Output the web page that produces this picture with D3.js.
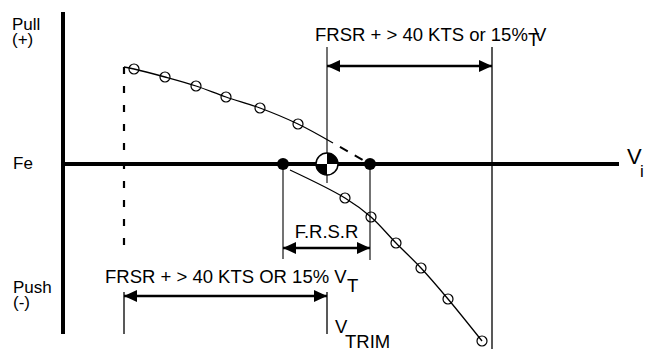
<!DOCTYPE html>
<meta charset="utf-8">
<style>
body { margin: 0; background: #fff; }
text { font-family: "Liberation Sans", Arial, sans-serif; fill: #000; }
</style>
<body>
<script src="https://d3js.org/d3.v7.min.js"></script>
<script>
// stick force (Fe) vs indicated airspeed (Vi)
var upperKts = [35.5, 51, 66.5, 81.5, 98.5, 117.5];
var upperFe  = [95, 87, 78, 67, 56, 40];
var lowerKts = [141, 154, 166.5, 179, 192.5, 209.5];
var lowerFe  = [-34, -53, -79, -104, -135, -177];

var upperStart = [30.5, 97];   // curve begins at the dashed limit line
var upperSolidEnd = [135, 21]; // then dashes down to the zero crossing
var lowerStart = [113.5, -6];

var frsrKts = [110, 153.5];    // free return speed range ends
var vTrim = 132;
var leftLimit = 30.5, rightLimit = 214.5;

var width = 645, height = 349;

var x = d3.scaleLinear().domain([0, 278]).range([63, 619]);
var y = d3.scaleLinear().domain([-170, 152]).range([334, 12]);

var svg = d3.select("body").append("svg")
    .attr("width", width)
    .attr("height", height);

// arrow heads
var defs = svg.append("defs");
["end", "start"].forEach(function(k) {
  defs.append("marker")
      .attr("id", "arr-" + k)
      .attr("viewBox", "0 -6 13 12")
      .attr("refX", 13).attr("refY", 0)
      .attr("markerUnits", "userSpaceOnUse")
      .attr("markerWidth", 13).attr("markerHeight", 12)
      .attr("orient", k == "end" ? "auto" : "auto-start-reverse")
    .append("path")
      .attr("d", "M0,-6L13,0L0,6Z")
      .attr("fill", "#000");
});

function vline(kt, fe0, fe1, col, w) {
  svg.append("line")
      .attr("x1", x(kt)).attr("x2", x(kt))
      .attr("y1", y(fe0)).attr("y2", y(fe1))
      .attr("stroke", col).attr("stroke-width", w);
}
function arrow(k0, k1, fe, w) {
  svg.append("line")
      .attr("x1", x(k0)).attr("x2", x(k1))
      .attr("y1", y(fe)).attr("y2", y(fe))
      .attr("stroke", "#000").attr("stroke-width", w)
      .attr("marker-start", "url(#arr-start)")
      .attr("marker-end", "url(#arr-end)");
}

// guide lines
vline(vTrim, 117, -19, "#444", 1.5);
vline(rightLimit, 117, -186, "#222", 1.5);
vline(frsrKts[0], 0, -95, "#444", 1.5);
vline(frsrKts[1], 0, -96, "#444", 1.5);
vline(leftLimit, -128, -170, "#222", 1.5);
vline(vTrim, -128, -170, "#222", 1.5);

// dashed limit at low speed
svg.append("line")
    .attr("x1", x(leftLimit)).attr("x2", x(leftLimit))
    .attr("y1", y(97)).attr("y2", y(-84))
    .attr("stroke", "#000").attr("stroke-width", 2.2)
    .attr("stroke-dasharray", "7,12");

arrow(vTrim, rightLimit, 98, 2.6);
arrow(frsrKts[0], frsrKts[1], -84, 2.4);
arrow(leftLimit, vTrim, -132, 2.4);

// axes
svg.append("line")
    .attr("x1", x(0)).attr("x2", x(0))
    .attr("y1", y(152)).attr("y2", y(-170))
    .attr("stroke", "#000").attr("stroke-width", 4);
svg.append("line")
    .attr("x1", x(0)).attr("x2", x(278))
    .attr("y1", y(0)).attr("y2", y(0))
    .attr("stroke", "#000").attr("stroke-width", 4);

// curves
var line = d3.line()
    .x(function(d) { return x(d[0]); })
    .y(function(d) { return y(d[1]); })
    .curve(d3.curveCatmullRom);

var upper = upperKts.map(function(k, i) { return [k, upperFe[i]]; });
var lower = lowerKts.map(function(k, i) { return [k, lowerFe[i]]; });

svg.append("path")
    .attr("d", line([upperStart].concat(upper, [upperSolidEnd])))
    .attr("fill", "none").attr("stroke", "#000").attr("stroke-width", 1.3);
svg.append("path")
    .attr("d", line([upperSolidEnd, [frsrKts[1], 0]]))
    .attr("fill", "none").attr("stroke", "#000").attr("stroke-width", 2)
    .attr("stroke-dasharray", "9,8").attr("stroke-dashoffset", -8);
svg.append("path")
    .attr("d", line([lowerStart].concat(lower)))
    .attr("fill", "none").attr("stroke", "#000").attr("stroke-width", 1.3);

svg.selectAll("circle.pt")
    .data(upper.concat(lower))
  .enter().append("circle")
    .attr("class", "pt")
    .attr("cx", function(d) { return x(d[0]); })
    .attr("cy", function(d) { return y(d[1]); })
    .attr("r", 5)
    .attr("fill", "none").attr("stroke", "#000").attr("stroke-width", 1.2);

svg.selectAll("circle.frsr")
    .data(frsrKts)
  .enter().append("circle")
    .attr("class", "frsr")
    .attr("cx", function(d) { return x(d); })
    .attr("cy", y(0))
    .attr("r", 6)
    .attr("fill", "#000");

// trim point symbol
var cx = x(vTrim), cy = y(0), r = 11;
var arc = d3.arc().innerRadius(0).outerRadius(r);
var g = svg.append("g").attr("transform", "translate(" + cx + "," + cy + ")");
g.append("circle").attr("r", r).attr("fill", "#fff");
g.append("path").attr("d", arc({startAngle: 0, endAngle: Math.PI / 2})).attr("fill", "#000");
g.append("path").attr("d", arc({startAngle: Math.PI, endAngle: Math.PI * 1.5})).attr("fill", "#000");
g.append("circle").attr("r", r).attr("fill", "none").attr("stroke", "#000").attr("stroke-width", 1.5);

// labels
function label(t, px, py, size, anchor) {
  svg.append("text")
      .attr("x", px).attr("y", py)
      .attr("font-size", size)
      .attr("text-anchor", anchor || "start")
      .text(t);
}
label("Pull", 12, 30, 17);
label("(+)", 12, 45, 17);
label("Fe", 13, 169, 17);
label("Push", 13, 293, 17);
label("(-)", 13, 308, 17);
label("V", 627, 164, 22);
label("i", 640, 177, 17);

label("FRSR + > 40 KTS or 15%", 315, 41, 18.5);
label("T", 528, 46, 18.5);
label("V", 534, 41, 18.5);

label("F.R.S.R", x((frsrKts[0] + frsrKts[1]) / 2), 238, 18.5, "middle");

label("FRSR + > 40 KTS OR 15% V", 105, 283, 18.5);
label("T", 347, 292, 18.5);
label("V", 335, 333, 18.5);
label("TRIM", 345, 348, 18.5);
</script>
</body>
